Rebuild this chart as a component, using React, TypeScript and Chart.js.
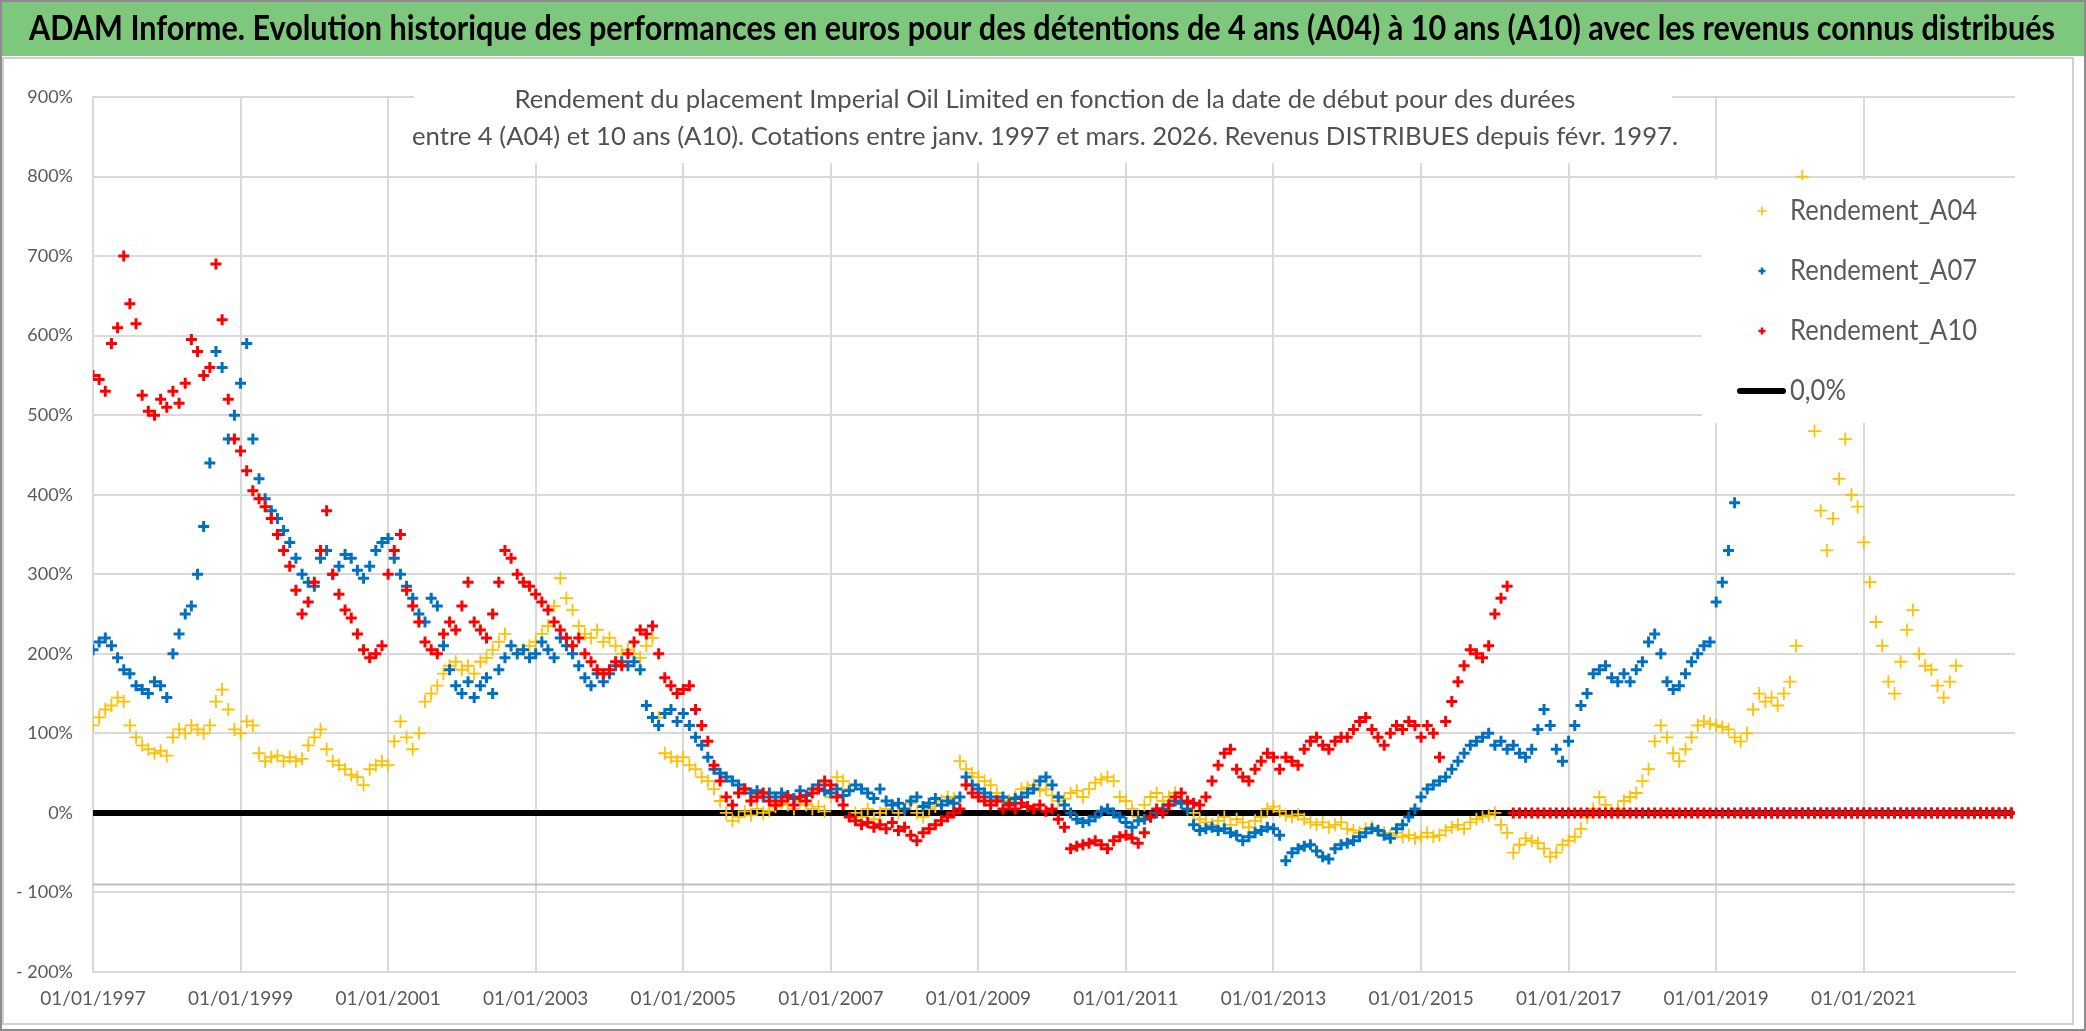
import React, { useEffect, useRef } from 'react';
import { Chart, registerables } from 'chart.js';

Chart.register(...registerables);

const WIDTH = 2086;
const HEIGHT = 1031;

const TITLE =
  'ADAM Informe. Evolution historique des performances en euros pour des détentions de 4 ans (A04) à 10 ans (A10) avec les revenus connus distribués';
const SUBTITLE_LINE_1 =
  'Rendement du placement Imperial Oil Limited en fonction de la date de début pour des durées';
const SUBTITLE_LINE_2 =
  'entre 4 (A04) et 10 ans (A10). Cotations entre janv. 1997 et mars. 2026. Revenus DISTRIBUES depuis févr. 1997.';

// Start dates: one value per month, beginning 01/01/1997
const FIRST_START_YEAR = 1997;
const X_TICK_YEARS = [1997, 1999, 2001, 2003, 2005, 2007, 2009, 2011, 2013, 2015, 2017, 2019, 2021];
const X_MIN = 1997;
const X_MAX = 2023.05;
const Y_MIN = -200;
const Y_MAX = 900;
const Y_STEP = 100;
const ZERO_VALUE = 0;
const AXIS_CROSS_VALUE = -90;

const SERIES_LABELS = ['Rendement_A04', 'Rendement_A07', 'Rendement_A10', '0,0%'];
const SERIES_COLORS = ['#FFC000', '#0070C0', '#FF0000', '#000000'];

// Rendement (%) for a 4-year holding, by start month
const A04 = [
  110, 120, 130, 135, 145, 140, 110, 95, 85, 80, 75, 78, // 1997
  72, 95, 105, 100, 110, 105, 100, 110, 140, 155, 130, 105, // 1998
  100, 115, 110, 75, 65, 70, 72, 65, 70, 65, 68, 85, // 1999
  95, 105, 80, 65, 60, 55, 48, 45, 35, 55, 60, 65, // 2000
  60, 90, 115, 95, 80, 100, 140, 150, 160, 175, 185, 190, // 2001
  180, 185, 175, 190, 195, 205, 215, 225, 210, 200, 205, 210, // 2002
  215, 225, 235, 260, 295, 270, 255, 235, 225, 220, 230, 215, // 2003
  220, 210, 200, 205, 200, 195, 210, 220, 120, 75, 70, 65, // 2004
  70, 60, 55, 45, 40, 30, 15, 0, -10, -5, 2, -3, // 2005
  5, 0, 3, 8, 12, 10, 5, 15, 10, 5, 8, 2, // 2006
  20, 45, 40, 30, 0, -5, 5, -8, 0, 5, 10, 0, // 2007
  5, 12, 0, -5, 5, 8, 15, 20, 18, 65, 55, 50, // 2008
  45, 40, 35, 25, 18, 15, 20, 30, 32, 35, 28, 30, // 2009
  22, 15, 18, 25, 28, 20, 30, 38, 42, 45, 40, 20, // 2010
  15, 5, -5, 10, 20, 25, 15, 20, 25, 12, 5, 0, // 2011
  -8, -12, -15, -10, -5, -15, -8, -12, -18, -10, -5, 5, // 2012
  8, 2, -3, -5, -2, -8, -12, -15, -12, -18, -15, -12, // 2013
  -20, -22, -25, -20, -18, -22, -25, -28, -25, -30, -28, -32, // 2014
  -30, -25, -30, -28, -22, -18, -15, -20, -12, -8, -5, -3, // 2015
  0, -15, -25, -50, -40, -32, -35, -38, -45, -55, -50, -40, // 2016
  -35, -30, -20, -5, 5, 20, 10, 0, 5, 15, 20, 25, // 2017
  40, 55, 90, 110, 95, 75, 65, 80, 95, 110, 115, 112, // 2018
  110, 108, 105, 95, 90, 100, 130, 150, 140, 145, 135, 150, // 2019
  165, 210, 800, 650, 480, 380, 330, 370, 420, 470, 400, 385, // 2020
  340, 290, 240, 210, 165, 150, 190, 230, 255, 200, 185, 180, // 2021
  160, 145, 165, 185, 0, 0, 0, 0, 0, 0, 0, 0, // 2022
  0, // 2023
];

// Rendement (%) for a 7-year holding, by start month
const A07 = [
  205, 215, 220, 210, 195, 180, 175, 160, 155, 150, 165, 160, // 1997
  145, 200, 225, 250, 260, 300, 360, 440, 580, 560, 470, 500, // 1998
  540, 590, 470, 420, 395, 380, 370, 355, 340, 320, 300, 290, // 1999
  285, 320, 330, 300, 310, 325, 320, 305, 295, 310, 330, 340, // 2000
  345, 320, 300, 285, 270, 250, 240, 270, 260, 210, 180, 160, // 2001
  150, 165, 145, 160, 170, 150, 180, 195, 210, 200, 205, 195, // 2002
  200, 215, 205, 195, 220, 210, 200, 185, 170, 160, 175, 165, // 2003
  175, 185, 190, 185, 190, 180, 135, 120, 110, 125, 130, 115, // 2004
  125, 110, 95, 85, 70, 55, 50, 45, 40, 35, 30, 25, // 2005
  28, 20, 25, 20, 25, 22, 18, 28, 22, 30, 35, 28, // 2006
  25, 30, 22, 28, 35, 30, 25, 18, 30, 15, 10, 12, // 2007
  5, 15, 20, 8, 12, 18, 10, 15, 12, 20, 45, 35, // 2008
  30, 25, 20, 15, 20, 12, 18, 20, 25, 30, 40, 45, // 2009
  35, 20, 10, 0, -8, -12, -10, -5, 2, 5, 0, -5, // 2010
  -12, -18, -10, -8, -5, 0, 5, 10, 15, 12, 5, -15, // 2011
  -22, -20, -18, -22, -20, -25, -28, -35, -30, -25, -22, -18, // 2012
  -20, -28, -60, -50, -45, -42, -40, -48, -55, -58, -45, -40, // 2013
  -38, -35, -30, -25, -20, -22, -28, -32, -20, -15, -5, 5, // 2014
  20, 30, 35, 40, 45, 55, 65, 75, 85, 90, 95, 100, // 2015
  85, 90, 80, 85, 75, 70, 80, 105, 130, 110, 80, 65, // 2016
  90, 110, 135, 150, 175, 180, 185, 170, 165, 175, 165, 180, // 2017
  190, 215, 225, 200, 165, 155, 160, 175, 190, 200, 210, 215, // 2018
  265, 290, 330, 390, 0, 0, 0, 0, 0, 0, 0, 0, // 2019
  0, 0, 0, 0, 0, 0, 0, 0, 0, 0, 0, 0, // 2020
  0, 0, 0, 0, 0, 0, 0, 0, 0, 0, 0, 0, // 2021
  0, 0, 0, 0, 0, 0, 0, 0, 0, 0, 0, 0, // 2022
  0, // 2023
];

// Rendement (%) for a 10-year holding, by start month
const A10 = [
  550, 545, 530, 590, 610, 700, 640, 615, 525, 505, 500, 520, // 1997
  510, 530, 515, 540, 595, 580, 550, 560, 690, 620, 520, 470, // 1998
  455, 430, 405, 395, 385, 370, 350, 330, 310, 280, 250, 265, // 1999
  290, 330, 380, 300, 275, 255, 245, 225, 205, 195, 200, 210, // 2000
  300, 330, 350, 280, 260, 240, 215, 205, 200, 225, 240, 230, // 2001
  260, 290, 240, 230, 220, 250, 290, 330, 320, 300, 290, 285, // 2002
  275, 265, 255, 240, 230, 220, 210, 220, 200, 190, 180, 175, // 2003
  180, 190, 185, 200, 215, 230, 225, 235, 200, 170, 160, 150, // 2004
  155, 160, 130, 110, 90, 60, 40, 20, 10, 25, 30, 15, // 2005
  20, 25, 15, 10, 15, 20, 10, 20, 15, 25, 30, 40, // 2006
  35, 20, 10, -5, -10, -15, -12, -18, -15, -20, -12, -22, // 2007
  -18, -28, -35, -25, -20, -15, -10, -5, 0, 5, 35, 25, // 2008
  20, 15, 10, 15, 5, 10, 5, 12, 8, 5, 10, 2, // 2009
  5, -8, -18, -45, -42, -40, -38, -35, -40, -45, -35, -30, // 2010
  -28, -32, -38, -25, -5, 5, 0, 10, 20, 25, 15, 12, // 2011
  10, 20, 40, 60, 75, 80, 55, 45, 40, 55, 65, 75, // 2012
  70, 55, 70, 65, 60, 80, 90, 95, 85, 80, 90, 95, // 2013
  95, 105, 115, 120, 105, 95, 85, 100, 110, 105, 115, 110, // 2014
  95, 110, 100, 70, 115, 140, 165, 185, 205, 200, 195, 210, // 2015
  250, 270, 285, 0, 0, 0, 0, 0, 0, 0, 0, 0, // 2016
  0, 0, 0, 0, 0, 0, 0, 0, 0, 0, 0, 0, // 2017
  0, 0, 0, 0, 0, 0, 0, 0, 0, 0, 0, 0, // 2018
  0, 0, 0, 0, 0, 0, 0, 0, 0, 0, 0, 0, // 2019
  0, 0, 0, 0, 0, 0, 0, 0, 0, 0, 0, 0, // 2020
  0, 0, 0, 0, 0, 0, 0, 0, 0, 0, 0, 0, // 2021
  0, 0, 0, 0, 0, 0, 0, 0, 0, 0, 0, 0, // 2022
  0, // 2023
];

const monthToYear = (i: number) => FIRST_START_YEAR + i / 12;
const toPoints = (values: number[]) => values.map((v, i) => ({ x: monthToYear(i), y: v }));
const LAST_START = monthToYear(A04.length - 1);

const TEXT_GREY = '#595959';
const GRID_GREY = '#D9D9D9';

function fitText(
  ctx: CanvasRenderingContext2D,
  text: string,
  x: number,
  y: number,
  targetWidth: number,
  font: string,
  color: string,
  align: CanvasTextAlign
) {
  ctx.save();
  ctx.font = font;
  const w = ctx.measureText(text).width;
  const sx = w > 0 ? targetWidth / w : 1;
  ctx.translate(x, y);
  ctx.scale(sx, 1);
  ctx.fillStyle = color;
  ctx.textAlign = align;
  ctx.textBaseline = 'middle';
  ctx.fillText(text, 0, 0);
  ctx.restore();
}

const decorPlugin = {
  id: 'decor',
  beforeDraw(chart: any) {
    const ctx: CanvasRenderingContext2D = chart.ctx;
    ctx.save();
    ctx.fillStyle = '#FFFFFF';
    ctx.fillRect(0, 0, WIDTH, HEIGHT);
    ctx.fillStyle = '#7EC87E';
    ctx.fillRect(0, 0, WIDTH, 56);
    ctx.strokeStyle = '#D0D0D0';
    ctx.lineWidth = 2;
    ctx.strokeRect(3, 58, 2070, 966);
    ctx.strokeStyle = '#8C8C8C';
    ctx.lineWidth = 2;
    ctx.strokeRect(1, 1, WIDTH - 2, HEIGHT - 2);
    ctx.restore();
  },
  afterDraw(chart: any) {
    const ctx: CanvasRenderingContext2D = chart.ctx;
    // banner title
    fitText(ctx, TITLE, 1042, 29, 2026, 'bold 35px Lato', '#000000', 'center');
    // subtitle box inside the plot
    ctx.save();
    ctx.fillStyle = '#FFFFFF';
    ctx.fillRect(414, 62, 1258, 101);
    ctx.restore();
    fitText(ctx, SUBTITLE_LINE_1, 1045, 100, 1061, '25px Lato', '#505050', 'center');
    fitText(ctx, SUBTITLE_LINE_2, 1045, 137, 1266, '25px Lato', '#505050', 'center');
    // legend box
    ctx.save();
    ctx.fillStyle = '#FFFFFF';
    ctx.fillRect(1702, 180, 313, 243);
    ctx.font = '28px Lato';
    const s = 187 / ctx.measureText(SERIES_LABELS[0]).width;
    chart.data.datasets.slice(0, 4).forEach((ds: any, i: number) => {
      const y = 211 + i * 60;
      ctx.strokeStyle = ds.borderColor;
      if (ds.showLine) {
        ctx.lineWidth = 6;
        ctx.lineCap = 'round';
        ctx.beginPath();
        ctx.moveTo(1740, y);
        ctx.lineTo(1783, y);
        ctx.stroke();
      } else {
        const h = i === 0 ? 4.5 : 3.5;
        ctx.lineWidth = i === 0 ? 1.5 : 2.5;
        ctx.lineCap = 'butt';
        ctx.beginPath();
        ctx.moveTo(1762 - h, y);
        ctx.lineTo(1762 + h, y);
        ctx.moveTo(1762, y - h);
        ctx.lineTo(1762, y + h);
        ctx.stroke();
      }
      ctx.save();
      ctx.translate(1790, y);
      ctx.scale(s, 1);
      ctx.fillStyle = TEXT_GREY;
      ctx.textAlign = 'left';
      ctx.textBaseline = 'middle';
      ctx.font = '28px Lato';
      ctx.fillText(ds.label, 0, 0);
      ctx.restore();
    });
    ctx.restore();
  },
};

const scatterSet = (label: string, values: number[], color: string, width: number, radius: number, order: number) => ({
  label,
  data: toPoints(values),
  showLine: false,
  borderColor: color,
  backgroundColor: color,
  pointStyle: 'cross',
  pointRadius: radius,
  pointHoverRadius: radius,
  pointBorderWidth: width,
  pointBorderColor: color,
  pointBackgroundColor: color,
  order,
});

export default function App() {
  const ref = useRef<HTMLCanvasElement>(null);

  useEffect(() => {
    document.body.style.margin = '0';
    const canvas = ref.current;
    if (!canvas) return;
    const chart = new Chart(canvas, {
      type: 'scatter',
      data: {
        datasets: [
          scatterSet(SERIES_LABELS[0], A04, SERIES_COLORS[0], 1.8, 6.5, 3),
          scatterSet(SERIES_LABELS[1], A07, SERIES_COLORS[1], 3, 5.5, 2),
          scatterSet(SERIES_LABELS[2], A10, SERIES_COLORS[2], 3, 5.5, 1),
          {
            label: SERIES_LABELS[3],
            data: [
              { x: X_MIN, y: ZERO_VALUE },
              { x: LAST_START, y: ZERO_VALUE },
            ],
            showLine: true,
            borderColor: SERIES_COLORS[3],
            backgroundColor: SERIES_COLORS[3],
            borderWidth: 6,
            borderCapStyle: 'round',
            pointRadius: 0,
            pointHoverRadius: 0,
            order: 4,
          },
          {
            label: 'axis',
            data: [
              { x: X_MIN, y: AXIS_CROSS_VALUE },
              { x: X_MAX, y: AXIS_CROSS_VALUE },
            ],
            showLine: true,
            borderColor: '#BFBFBF',
            borderWidth: 2,
            pointRadius: 0,
            pointHoverRadius: 0,
            order: 5,
          },
        ] as any,
      },
      options: {
        responsive: false,
        animation: false,
        events: [],
        layout: { padding: { top: 97, right: 71, bottom: 0, left: 0 } },
        plugins: {
          legend: { display: false },
          tooltip: { enabled: false },
          title: { display: false },
        },
        scales: {
          x: {
            type: 'linear',
            min: X_MIN,
            max: X_MAX,
            afterBuildTicks: (scale: any) => {
              scale.ticks = X_TICK_YEARS.map((v) => ({ value: v }));
            },
            afterFit: (scale: any) => {
              scale.height = 59;
            },
            grid: { color: GRID_GREY, lineWidth: 2, drawTicks: false },
            border: { color: GRID_GREY, width: 2 },
            ticks: {
              autoSkip: false,
              maxRotation: 0,
              padding: 15,
              color: TEXT_GREY,
              font: { family: 'Lato', size: 19 },
              callback: (v: any) => `01/01/${v}`,
            },
          },
          y: {
            type: 'linear',
            min: Y_MIN,
            max: Y_MAX,
            afterFit: (scale: any) => {
              scale.width = 93;
            },
            grid: { color: GRID_GREY, lineWidth: 2, drawTicks: false },
            border: { color: GRID_GREY, width: 2 },
            ticks: {
              stepSize: Y_STEP,
              padding: 20,
              color: TEXT_GREY,
              font: { family: 'Lato', size: 18 },
              callback: (v: any) => (Number(v) < 0 ? `- ${Math.abs(Number(v))}%` : `${v}%`),
            },
          },
        },
      } as any,
      plugins: [decorPlugin],
    });
    return () => chart.destroy();
  }, []);

  return (
    <canvas
      ref={ref}
      width={WIDTH}
      height={HEIGHT}
      style={{ display: 'block', width: WIDTH, height: HEIGHT }}
    />
  );
}
